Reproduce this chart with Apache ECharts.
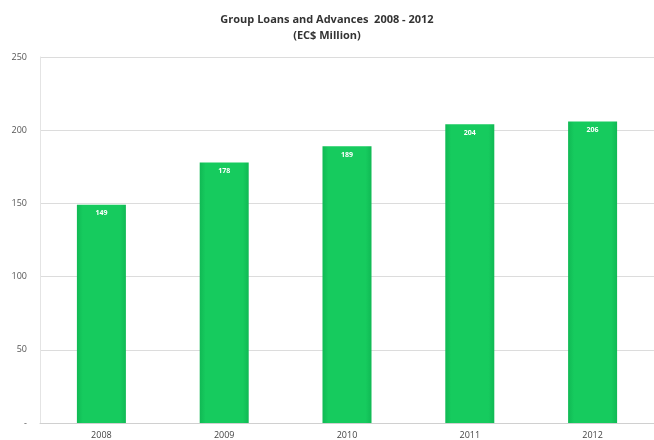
<!DOCTYPE html>
<html>
<head>
<meta charset="utf-8">
<script src="https://cdn.jsdelivr.net/npm/echarts@6/dist/echarts.min.js"></script>
<style>
  html, body { margin: 0; padding: 0; background: #ffffff; }
  #chart { width: 654px; height: 440px; }
</style>
</head>
<body>
<div id="chart"></div>
<script>
// Group loans and advances, EC$ million
const years = ['2008', '2009', '2010', '2011', '2012'];
const loans = [149, 178, 189, 204, 206];
const yTicks = [0, 50, 100, 150, 200, 250];

const chart = echarts.init(document.getElementById('chart'));
chart.setOption({
  animation: false,
  backgroundColor: '#ffffff',
  title: {
    text: 'Group Loans and Advances  2008 - 2012\n(EC$ Million)',
    left: 'center',
    top: 7,
    textStyle: {
      fontFamily: 'Open Sans',
      fontSize: 11,
      fontWeight: 'bold',
      color: '#333333',
      lineHeight: 16
    }
  },
  grid: { left: 40, top: 57, width: 619, bottom: 17, containLabel: false },
  xAxis: {
    type: 'category',
    data: years,
    axisLine: { show: true, lineStyle: { color: '#d0d0d0', width: 1 } },
    axisTick: { show: false },
    axisLabel: {
      fontFamily: 'Open Sans',
      fontSize: 9,
      color: '#444444',
      margin: 8
    }
  },
  yAxis: {
    type: 'value',
    min: yTicks[0],
    max: yTicks[yTicks.length - 1],
    interval: 50,
    axisLine: { show: true, lineStyle: { color: '#e4e4e4', width: 1 } },
    axisTick: { show: false },
    splitLine: { show: true, lineStyle: { color: '#dcdcdc', width: 1 } },
    axisLabel: {
      fontFamily: 'Open Sans',
      fontSize: 9,
      color: '#555555',
      margin: 13,
      formatter: v => (v === 0 ? '-' : String(v))
    }
  },
  series: [{
    type: 'bar',
    data: loans,
    barWidth: 49,
    itemStyle: {
      color: {
        type: 'linear', x: 0, y: 0, x2: 1, y2: 0,
        colorStops: [
          { offset: 0, color: '#10b954' },
          { offset: 0.12, color: '#16cb5e' },
          { offset: 0.88, color: '#16cb5e' },
          { offset: 1, color: '#10b954' }
        ]
      }
    },
    label: {
      show: true,
      position: 'insideTop',
      distance: 5,
      color: '#ffffff',
      fontFamily: 'Open Sans',
      fontSize: 7,
      fontWeight: 'bold'
    }
  }]
});
</script>
</body>
</html>
